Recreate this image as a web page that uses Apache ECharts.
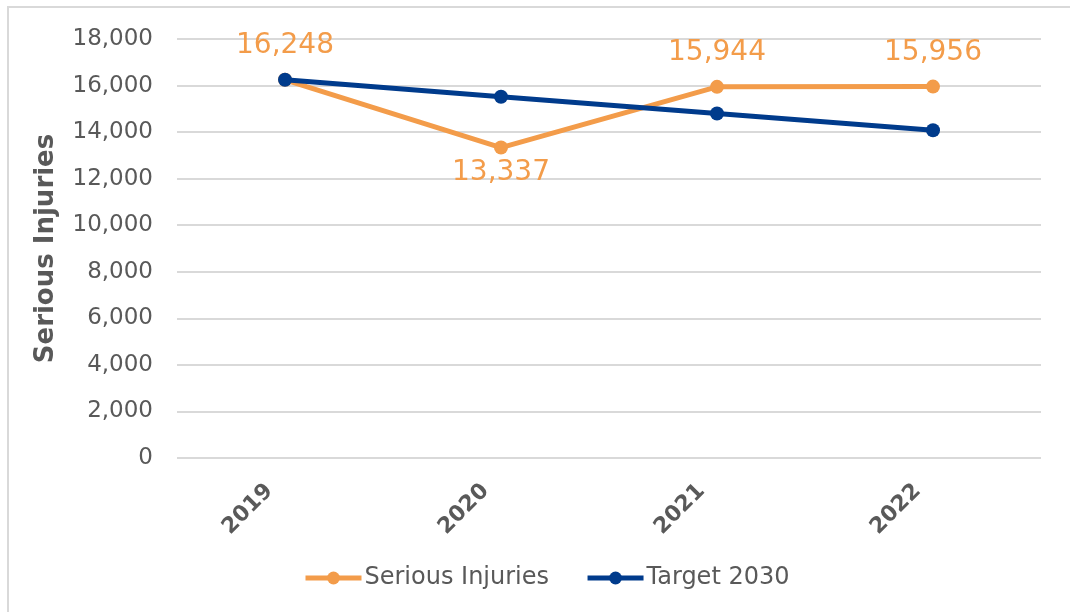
<!DOCTYPE html>
<html>
<head>
<meta charset="utf-8">
<style>
  html, body { margin: 0; padding: 0; background: #fff; }
  #chart { width: 1070px; height: 612px; }
</style>
<script src="https://cdn.jsdelivr.net/npm/echarts@6/dist/echarts.min.js"></script>
</head>
<body>
<div id="chart"></div>
<script>
// 年份与数值
var years = ['2019', '2020', '2021', '2022'];
var seriousInjuries = [16248, 13337, 15944, 15956];
var target2030 = [16248, 15520, 14800, 14080];
var yTicks = { min: 0, max: 18000, interval: 2000 };

var orange = '#F39C4A';
var navy = '#003B8C';
var font = 'Verdana, "DejaVu Sans", sans-serif';

var myChart = echarts.init(document.getElementById('chart'));
var option = {
    animation: false,
    backgroundColor: '#fff',
    graphic: [{
        type: 'rect',
        shape: { x: 8, y: 7, width: 1200, height: 800 },
        style: { fill: 'none', stroke: '#d9d9d9', lineWidth: 2 },
        silent: true
    }],
    grid: { left: 177, right: 29, top: 39, bottom: 154 },
    legend: {
        bottom: 17,
        left: 298,
        itemWidth: 56,
        itemHeight: 16,
        itemGap: 36,
        lineStyle: { width: 5 },
        textStyle: { fontFamily: font, fontSize: 24, color: '#595959', padding: [0, 0, 0, -2] },
        data: ['Serious Injuries', 'Target 2030']
    },
    xAxis: {
        type: 'category',
        data: years,
        boundaryGap: true,
        axisLine: { show: false },
        axisTick: { show: false },
        axisLabel: {
            rotate: 45,
            margin: 14,
            padding: [0, 22, 0, 0],
            fontFamily: font,
            fontSize: 22,
            fontWeight: 'bold',
            color: '#595959'
        }
    },
    yAxis: {
        type: 'value',
        min: yTicks.min,
        max: yTicks.max,
        interval: yTicks.interval,
        name: 'Serious Injuries',
        nameLocation: 'middle',
        nameGap: 118,
        nameTextStyle: { fontFamily: font, fontSize: 26, fontWeight: 'bold', color: '#595959' },
        axisLine: { show: false },
        axisTick: { show: false },
        axisLabel: {
            margin: 24,
            fontFamily: font,
            fontSize: 23,
            color: '#595959',
            formatter: function (v) { return v.toLocaleString('en-US'); }
        },
        splitLine: { lineStyle: { color: '#d9d9d9', width: 2 } }
    },
    series: [{
        name: 'Serious Injuries',
        type: 'line',
        z: 2,
        symbol: 'circle',
        symbolSize: 14,
        color: orange,
        lineStyle: { width: 5, color: orange },
        label: {
            show: true,
            position: 'top',
            distance: 13,
            fontFamily: font,
            fontSize: 28,
            color: orange,
            formatter: function (p) { return p.value.toLocaleString('en-US'); }
        },
        data: seriousInjuries.map(function (v) {
            // 最低点标签放到下方
            var minV = Math.min.apply(null, seriousInjuries);
            return v === minV ? { value: v, label: { position: 'bottom', distance: 4 } } : v;
        })
    }, {
        name: 'Target 2030',
        type: 'line',
        z: 3,
        symbol: 'circle',
        symbolSize: 14,
        color: navy,
        lineStyle: { width: 5, color: navy },
        data: target2030
    }]
};
myChart.setOption(option);
</script>
</body>
</html>
